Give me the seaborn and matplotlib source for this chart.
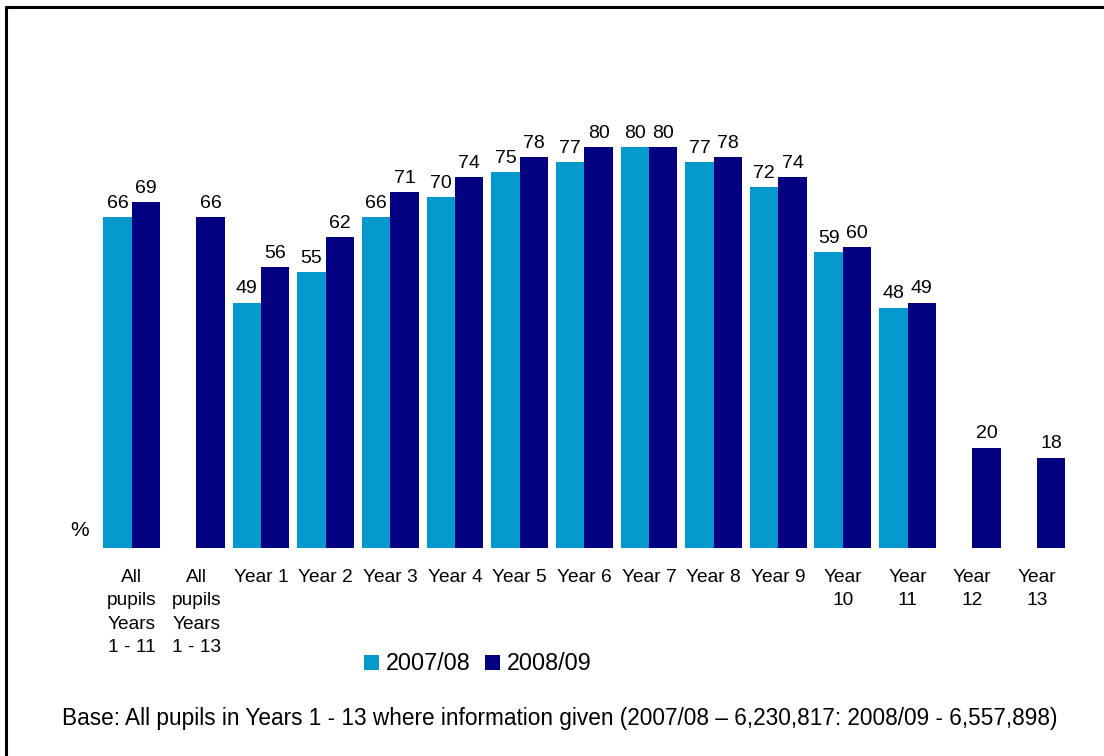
import matplotlib
matplotlib.use("Agg")
import matplotlib.pyplot as plt
from matplotlib.lines import Line2D
import seaborn as sns
import pandas as pd
import numpy as np

# data
categories = ["All\npupils\nYears\n1 - 11", "All\npupils\nYears\n1 - 13",
              "Year 1", "Year 2", "Year 3", "Year 4", "Year 5", "Year 6",
              "Year 7", "Year 8", "Year 9", "Year\n10", "Year\n11",
              "Year\n12", "Year\n13"]
series = ["2007/08", "2008/09"]
vals_0708 = [66, np.nan, 49, 55, 66, 70, 75, 77, 80, 77, 72, 59, 48, np.nan, np.nan]
vals_0809 = [69, 66, 56, 62, 71, 74, 78, 80, 80, 78, 74, 60, 49, 20, 18]
colors = ["#0399CC", "#000080"]
base_note = ("Base: All pupils in Years 1 - 13 where information given "
             "(2007/08 \u2013 6,230,817: 2008/09 - 6,557,898)")

df = pd.DataFrame({
    "category": categories * 2,
    "year": [series[0]] * len(categories) + [series[1]] * len(categories),
    "value": vals_0708 + vals_0809,
})

sns.set_style("white")
plt.rcParams["font.family"] = ["Liberation Sans", "DejaVu Sans"]
plt.rcParams["text.color"] = "black"
plt.rcParams["xtick.color"] = "black"

fig = plt.figure(figsize=(11.04, 7.56), dpi=100)
ax = fig.add_axes([0.090, 0.2751, 0.8785, 0.6627])

sns.barplot(data=df, x="category", y="value", hue="year", order=categories,
            hue_order=series, palette=colors, width=0.88, saturation=1,
            errorbar=None, gap=0, linewidth=0, ax=ax, legend=True)

for c in ax.containers:
    ax.bar_label(c, fmt="%.0f", padding=4, fontsize=14, color="black")

ax.set_ylim(0, 100)
ax.set_xlim(-0.5, len(categories) - 0.5)
ax.set_xlabel("")
ax.set_ylabel("")
ax.set_yticks([])
ax.tick_params(axis="x", length=0, pad=15, labelsize=13.8, labelcolor="black")
for lbl in ax.get_xticklabels():
    lbl.set_linespacing(1.5)
sns.despine(ax=ax, left=True, bottom=True)

handles, labels = ax.get_legend_handles_labels()
ax.get_legend().remove()
fig.legend(handles, labels, loc="center", bbox_to_anchor=(478 / 1104, 1 - 664 / 756),
           ncol=2, frameon=False, fontsize=16.8, handlelength=0.65, handleheight=0.65,
           handletextpad=0.3, columnspacing=0.6, borderaxespad=0)

fig.text(80 / 1104, 1 - 530 / 756, "%", ha="center", va="center", fontsize=15)
fig.text(560 / 1104, 1 - 718 / 756, base_note, ha="center", va="center", fontsize=16.3)

# partial frame (top and left edges visible in the reference)
fig.add_artist(Line2D([6 / 1104, 6 / 1104], [0, 1 - 7 / 756], color="black", lw=2.2,
                      transform=fig.transFigure))
fig.add_artist(Line2D([6 / 1104, 1], [1 - 7 / 756, 1 - 7 / 756], color="black", lw=2.2,
                      transform=fig.transFigure))

fig.savefig("out.png", dpi=100)
